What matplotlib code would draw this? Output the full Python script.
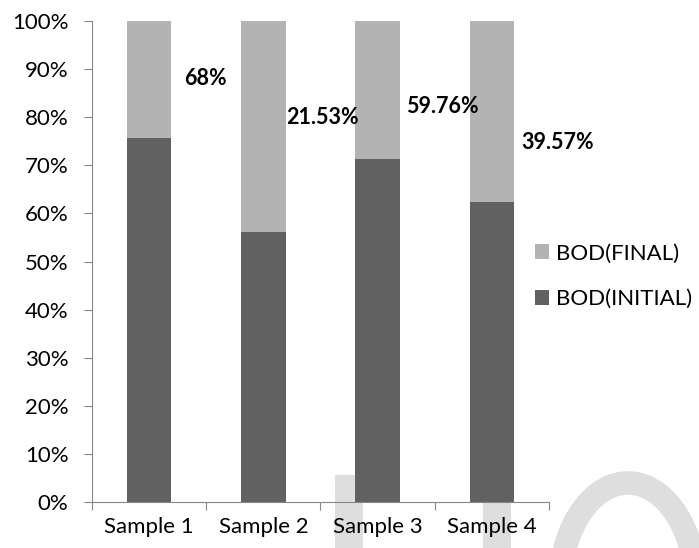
import numpy as np
import matplotlib.pyplot as plt
from matplotlib.patches import Rectangle, Arc
from matplotlib.ticker import PercentFormatter

plt.rcParams['font.family'] = ['Lato', 'DejaVu Sans']

samples = ['Sample 1', 'Sample 2', 'Sample 3', 'Sample 4']
bod_initial = [100.0, 100.0, 100.0, 100.0]
bod_final = [32.0, 78.47, 40.24, 60.43]
removal_labels = ['68%', '21.53%', '59.76%', '39.57%']

# where each removal label sits (x offset from bar centre, height in %)
label_dx = [0.31, 0.2, 0.25, 0.26]
label_y = [88.0, 80.0, 82.3, 74.7]

dark = '#616161'
light = '#b3b3b3'
axis_gray = '#868686'

initial = np.array(bod_initial)
final = np.array(bod_final)
total = initial + final
initial_pct = initial / total * 100
final_pct = final / total * 100

fig = plt.figure(figsize=(6.99, 5.48), dpi=100)
fig.patch.set_facecolor('white')
ax = fig.add_axes([0.1316, 0.0839, 0.6538, 0.8778])
ax.patch.set_facecolor('none')

x = np.arange(len(samples))
width = 0.39
b_init = ax.bar(x, initial_pct, width, color=dark, label='BOD(INITIAL)', zorder=2)
b_final = ax.bar(x, final_pct, width, bottom=initial_pct, color=light,
                 label='BOD(FINAL)', zorder=2)

for i, txt in enumerate(removal_labels):
    ax.text(x[i] + label_dx[i], label_y[i], txt, ha='left', va='center',
            fontsize=15.5, fontweight='bold', color='black', zorder=3)

ax.set_xlim(-0.5, len(samples) - 0.5)
ax.set_ylim(0, 100)
ax.set_yticks(np.arange(0, 101, 10))
ax.yaxis.set_major_formatter(PercentFormatter(decimals=0))

# category boundaries get the tick marks, names sit between them
ax.set_xticks(np.arange(len(samples) + 1) - 0.5)
ax.set_xticklabels([])
ax.set_xticks(x, minor=True)
ax.set_xticklabels(samples, minor=True)
ax.tick_params(axis='x', which='major', length=6, width=0.8, color=axis_gray, direction='out')
ax.tick_params(axis='x', which='minor', length=0, pad=11, labelsize=16)
ax.tick_params(axis='y', length=6, width=0.8, color=axis_gray, pad=11, labelsize=16)

for side in ['top', 'right']:
    ax.spines[side].set_visible(False)
for side in ['left', 'bottom']:
    ax.spines[side].set_color(axis_gray)
    ax.spines[side].set_linewidth(0.8)

ax.legend(handles=[b_final, b_init], loc='center left',
          bbox_to_anchor=(535 / 699, 0.496), bbox_transform=fig.transFigure,
          frameon=False, fontsize=16, handlelength=0.65, handleheight=0.65,
          handletextpad=0.3, labelspacing=1.15, borderpad=0, borderaxespad=0)

# faint watermark shapes along the bottom edge
wm = '#dedede'
fig.patches.append(Rectangle((335 / 699, 0), 28 / 699, 73 / 548, transform=fig.transFigure,
                             facecolor=wm, edgecolor='none', zorder=-1))
fig.patches.append(Rectangle((483 / 699, 0), 28 / 699, 73 / 548, transform=fig.transFigure,
                             facecolor=wm, edgecolor='none', zorder=-1))
fig.patches.append(Arc((628 / 699, 1 - 590 / 548), 137 / 699, 214 / 548, theta1=33, theta2=270,
                       transform=fig.transFigure, color=wm, linewidth=17, zorder=-1))

fig.savefig('out.png', dpi=100, facecolor='white')
